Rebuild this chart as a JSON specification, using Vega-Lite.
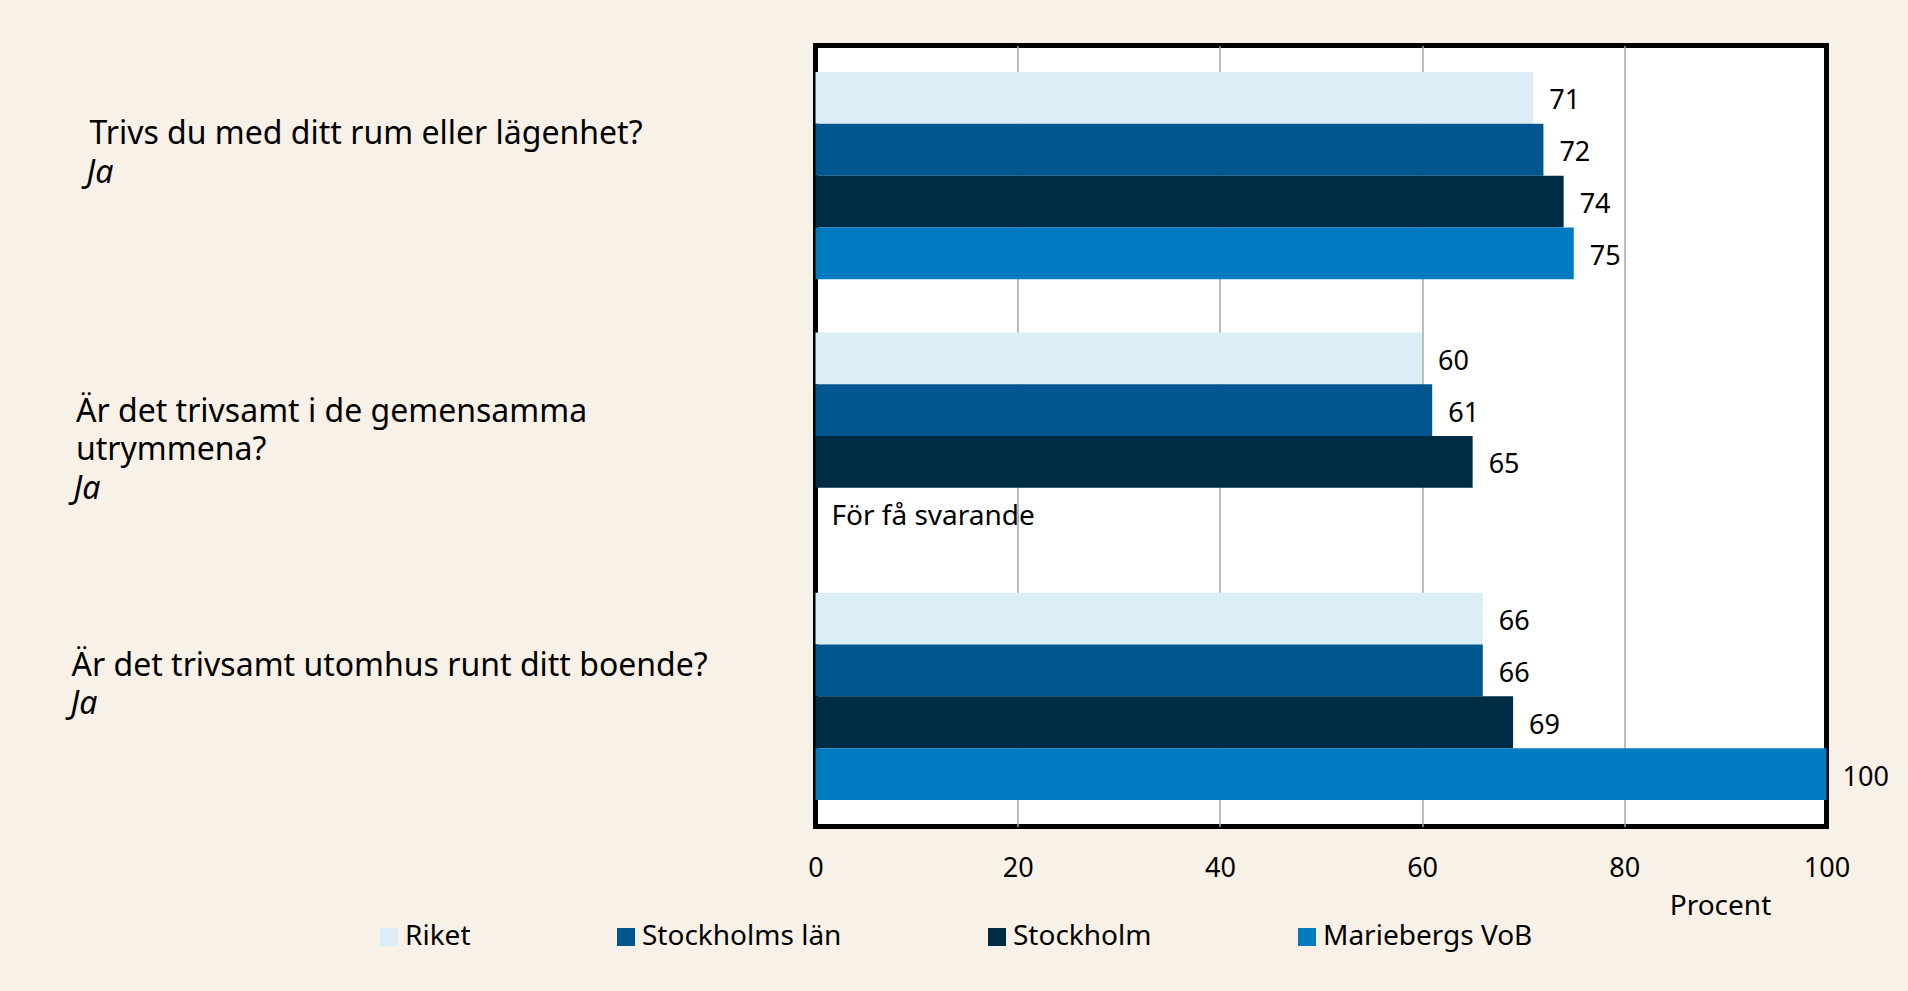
{
  "$schema": "https://vega.github.io/schema/vega-lite/v6.json",
  "autosize": {"type": "none"},
  "width": 1011,
  "height": 781,
  "padding": {"left": 815.5, "top": 45.5, "right": 81.5, "bottom": 164.5},
  "background": "#F8F1E8",
  "config": {
    "font": "Noto Sans",
    "view": {"fill": "white", "stroke": "black", "strokeWidth": 5},
    "axis": {"labelFont": "Noto Sans", "labelFontSize": 27, "labelColor": "black", "titleFont": "Noto Sans", "titleFontSize": 28, "titleFontWeight": "normal", "titleColor": "black"},
    "text": {"font": "Noto Sans"}
  },
  "data": {
    "values": [
      {"question": "Trivs du med ditt rum eller lägenhet?", "group": "Riket", "value": 71},
      {"question": "Trivs du med ditt rum eller lägenhet?", "group": "Stockholms län", "value": 72},
      {"question": "Trivs du med ditt rum eller lägenhet?", "group": "Stockholm", "value": 74},
      {"question": "Trivs du med ditt rum eller lägenhet?", "group": "Mariebergs VoB", "value": 75},
      {"question": "Är det trivsamt i de gemensamma utrymmena?", "group": "Riket", "value": 60},
      {"question": "Är det trivsamt i de gemensamma utrymmena?", "group": "Stockholms län", "value": 61},
      {"question": "Är det trivsamt i de gemensamma utrymmena?", "group": "Stockholm", "value": 65},
      {"question": "Är det trivsamt i de gemensamma utrymmena?", "group": "Mariebergs VoB", "value": null, "note": "För få svarande"},
      {"question": "Är det trivsamt utomhus runt ditt boende?", "group": "Riket", "value": 66},
      {"question": "Är det trivsamt utomhus runt ditt boende?", "group": "Stockholms län", "value": 66},
      {"question": "Är det trivsamt utomhus runt ditt boende?", "group": "Stockholm", "value": 69},
      {"question": "Är det trivsamt utomhus runt ditt boende?", "group": "Mariebergs VoB", "value": 100}
    ]
  },
  "layer": [
    {
      "mark": {"type": "bar"},
      "encoding": {
        "y": {
          "field": "question", "type": "nominal",
          "sort": ["Trivs du med ditt rum eller lägenhet?", "Är det trivsamt i de gemensamma utrymmena?", "Är det trivsamt utomhus runt ditt boende?"],
          "scale": {"paddingInner": 0.204, "paddingOuter": 0.102},
          "axis": {
            "orient": "left", "title": null, "domain": false, "ticks": false, "tickSize": 0, "grid": false,
            "labelAlign": "left", "labelBaseline": "middle", "labelLimit": 900, "labelLineHeight": 38, "labelFontSize": 32,
            "labelExpr": "indexof(datum.value, 'gemensamma') > 0 ? ['Är det trivsamt i de gemensamma', 'utrymmena?'] : datum.value",
            "labelPadding": {"condition": [{"test": "indexof(datum.value, 'Trivs') == 0", "value": 726.5}, {"test": "indexof(datum.value, 'gemensamma') > 0", "value": 740}], "value": 744.5},
            "labelOffset": {"condition": [{"test": "indexof(datum.value, 'Trivs') == 0", "value": -41.5}, {"test": "indexof(datum.value, 'gemensamma') > 0", "value": -24}], "value": -30.5}
          }
        },
        "yOffset": {"field": "group", "type": "nominal", "sort": ["Riket", "Stockholms län", "Stockholm", "Mariebergs VoB"], "scale": {"paddingInner": 0, "paddingOuter": 0}},
        "x": {
          "field": "value", "type": "quantitative",
          "scale": {"domain": [0, 100], "nice": false},
          "axis": {
            "values": [0, 20, 40, 60, 80, 100], "grid": true, "gridColor": "#A6A6A6", "gridWidth": 1.5,
            "gridOpacity": {"condition": {"test": "datum.value == 0 || datum.value == 100", "value": 0}, "value": 1},
            "domain": false, "ticks": false, "tickSize": 0, "labelPadding": 29, "labelFlush": false,
            "title": "Procent", "titleX": 904.5, "titleY": 80, "titleBaseline": "middle", "titleAlign": "center"
          }
        },
        "color": {
          "field": "group", "type": "nominal",
          "scale": {"domain": ["Riket", "Stockholms län", "Stockholm", "Mariebergs VoB"], "range": ["#DBEEF6", "#00578F", "#002B45", "#007BC1"]},
          "legend": {
            "orient": "none", "legendX": -440.5, "legendY": 877.5, "direction": "horizontal", "title": null,
            "symbolType": "square", "symbolSize": 324, "symbolStrokeWidth": 0, "symbolOpacity": 1,
            "labelFont": "Noto Sans", "labelFontSize": 28, "labelColor": "black", "labelOffset": 2, "labelLimit": 400, "columnPadding": 141
          }
        }
      }
    },
    {
      "transform": [
        {"calculate": "datum.value == null ? 0 : datum.value", "as": "pos"},
        {"calculate": "datum.value == null ? datum.note : format(datum.value, 'd')", "as": "label"}
      ],
      "mark": {"type": "text", "align": "left", "baseline": "middle", "dx": 16, "dy": 3.5, "color": "black", "font": "Noto Sans"},
      "encoding": {
        "y": {
          "field": "question", "type": "nominal",
          "sort": ["Trivs du med ditt rum eller lägenhet?", "Är det trivsamt i de gemensamma utrymmena?", "Är det trivsamt utomhus runt ditt boende?"],
          "axis": {
            "orient": "left", "title": null, "domain": false, "ticks": false, "tickSize": 0, "grid": false,
            "labelAlign": "left", "labelBaseline": "middle", "labelLimit": 900, "labelFontStyle": "italic", "labelFontSize": 32,
            "labelExpr": "'Ja'",
            "labelPadding": {"condition": [{"test": "indexof(datum.value, 'Trivs') == 0", "value": 729.5}, {"test": "indexof(datum.value, 'gemensamma') > 0", "value": 742.5}], "value": 745.5},
            "labelOffset": {"condition": [{"test": "indexof(datum.value, 'Trivs') == 0", "value": -3}, {"test": "indexof(datum.value, 'gemensamma') > 0", "value": 53}], "value": 7.5}
          }
        },
        "yOffset": {"field": "group", "type": "nominal", "sort": ["Riket", "Stockholms län", "Stockholm", "Mariebergs VoB"]},
        "x": {"field": "pos", "type": "quantitative"},
        "text": {"field": "label", "type": "nominal"},
        "size": {"condition": {"test": "datum.value == null", "value": 28}, "value": 27}
      }
    }
  ],
  "resolve": {"axis": {"y": "independent"}}
}
